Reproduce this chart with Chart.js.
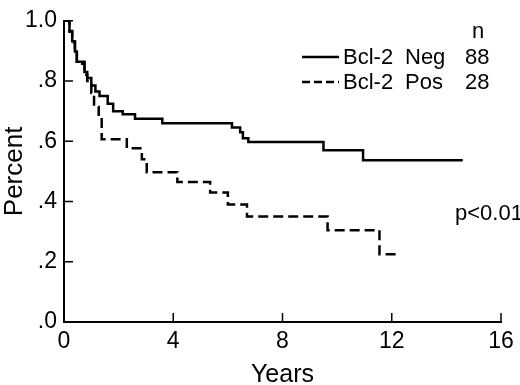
<!DOCTYPE html>
<html>
<head>
<meta charset="utf-8">
<script src="https://cdn.jsdelivr.net/npm/chart.js@4/dist/chart.umd.min.js"></script>
<style>
html,body{margin:0;padding:0;background:#fff;}
#c{display:block;}
</style>
</head>
<body>
<canvas id="c" width="520" height="385"></canvas>
<script>
// Kaplan-Meier step data (years, survival proportion)
const negYears = [0, 0.2, 0.3, 0.4, 0.47, 0.75, 0.85, 1.0, 1.15, 1.3, 1.6, 1.8, 2.15, 2.6, 3.6, 6.15, 6.45, 6.55, 6.75, 9.5, 10.95, 14.6];
const negSurv  = [1.0, 0.966, 0.932, 0.898, 0.864, 0.83, 0.81, 0.785, 0.765, 0.75, 0.725, 0.70, 0.69, 0.675, 0.66, 0.646, 0.63, 0.61, 0.598, 0.57, 0.537, 0.537];
const posYears = [0, 0.2, 0.3, 0.4, 0.47, 0.75, 0.85, 1.0, 1.1, 1.27, 1.38, 2.3, 2.85, 3.03, 4.15, 5.35, 6.0, 6.7, 9.65, 11.55, 12.15];
const posSurv  = [1.0, 0.964, 0.929, 0.893, 0.857, 0.821, 0.8, 0.76, 0.714, 0.679, 0.607, 0.577, 0.54, 0.497, 0.465, 0.43, 0.39, 0.35, 0.305, 0.225, 0.225];
const xTicks = [0, 4, 8, 12, 16];
const yTickLabels = ['.0', '.2', '.4', '.6', '.8', '1.0'];
const seriesNames = ['Bcl-2  Neg', 'Bcl-2  Pos'];
const seriesN = ['88', '28'];
const pText = 'p<0.01';

const FONT = "'Liberation Sans', Arial, Helvetica, sans-serif";

function pts(xs, ys){ return xs.map((x,i)=>({x:x, y:ys[i]})); }

const innerTicks = {
  id: 'innerTicks',
  afterDraw(chart){
    const ctx = chart.ctx;
    const xs = chart.scales.x, ys = chart.scales.y;
    const ca = chart.chartArea;
    ctx.save();
    ctx.strokeStyle = '#000';
    ctx.lineWidth = 1.5;
    ctx.beginPath();
    ys.ticks.forEach(t=>{
      const p = ys.getPixelForValue(t.value);
      ctx.moveTo(ca.left, p); ctx.lineTo(ca.left + 9, p);
    });
    xs.ticks.forEach(t=>{
      const p = xs.getPixelForValue(t.value);
      ctx.moveTo(p, ca.bottom); ctx.lineTo(p, ca.bottom - 9);
    });
    ctx.stroke();

    // legend
    ctx.fillStyle = '#000';
    ctx.font = '22px ' + FONT;
    ctx.textBaseline = 'alphabetic';
    ctx.textAlign = 'center';
    ctx.fillText('n', 478, 38);
    const rows = [64, 89];
    const lineY = [57, 82];
    for (let i=0;i<2;i++){
      ctx.beginPath();
      ctx.lineWidth = 2.5;
      ctx.setLineDash(i===0 ? [] : [8,4]);
      ctx.moveTo(302, lineY[i]); ctx.lineTo(339, lineY[i]);
      ctx.stroke();
      ctx.setLineDash([]);
      ctx.textAlign = 'left';
      ctx.fillText(seriesNames[i].split('  ')[0], 343, rows[i]);
      ctx.fillText(seriesNames[i].split('  ')[1], 405, rows[i]);
      ctx.fillText(seriesN[i], 465, rows[i]);
    }
    ctx.textAlign = 'left';
    ctx.fillText(pText, 455, 220);
    ctx.restore();
  }
};

new Chart(document.getElementById('c'), {
  type: 'scatter',
  data: {
    datasets: [
      { label: seriesNames[0], data: pts(negYears, negSurv), showLine: true, stepped: true,
        borderColor: '#000', borderWidth: 2.5, pointRadius: 0, fill: false },
      { label: seriesNames[1], data: pts(posYears, posSurv), showLine: true, stepped: true,
        borderColor: '#000', borderWidth: 2.5, borderDash: [10,5], pointRadius: 0, fill: false }
    ]
  },
  options: {
    responsive: false,
    animation: false,
    devicePixelRatio: 1,
    layout: { padding: { left: 0, right: 19, top: 9, bottom: 0 } },
    plugins: { legend: { display: false }, tooltip: { enabled: false } },
    scales: {
      x: {
        type: 'linear', min: 0, max: 16,
        afterBuildTicks(s){ s.ticks = xTicks.map(v=>({value:v})); },
        afterFit(s){ s.height = 63; },
        grid: { display: false, drawTicks: false },
        border: { display: true, color: '#000', width: 2 },
        ticks: { color: '#000', font: { family: FONT, size: 23 }, padding: 6,
                 callback: (v)=> String(v) },
        title: { display: true, text: 'Years', color: '#000',
                 font: { family: FONT, size: 25, lineHeight: 0.8 }, padding: { top: 0, bottom: 0 } }
      },
      y: {
        type: 'linear', min: 0, max: 1,
        afterBuildTicks(s){ s.ticks = yTickLabels.map((l,i)=>({value: i*0.2})); },
        afterFit(s){ s.width = 64; },
        grid: { display: false, drawTicks: false },
        border: { display: true, color: '#000', width: 2 },
        ticks: { color: '#000', font: { family: FONT, size: 23 }, padding: 7,
                 callback: (v, i)=> yTickLabels[i] },
        title: { display: true, text: 'Percent', color: '#000',
                 font: { family: FONT, size: 26, lineHeight: 1 }, padding: { top: 2, bottom: 0 } }
      }
    }
  },
  plugins: [innerTicks]
});
</script>
</body>
</html>
